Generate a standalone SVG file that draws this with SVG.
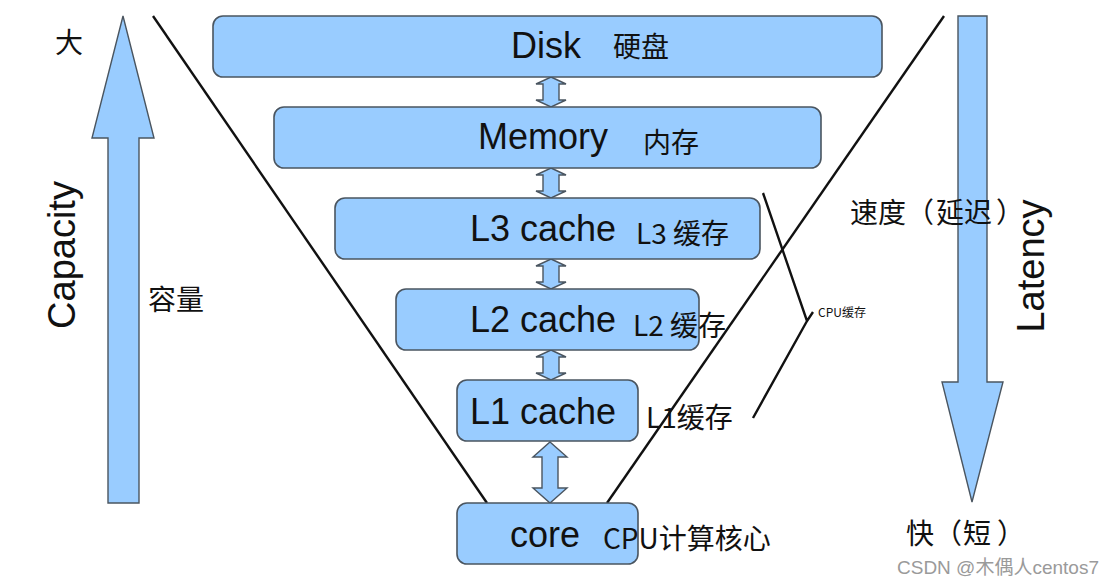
<svg xmlns="http://www.w3.org/2000/svg" width="1114" height="587" viewBox="0 0 1114 587">
<style>
.box{fill:#99ccff;stroke:#4a5560;stroke-width:1.6}
.arr{fill:#99ccff;stroke:#4a5560;stroke-width:1.4;stroke-linejoin:miter}
.ln{stroke:#111;stroke-width:2.4;fill:none}
.en{font-family:"Liberation Sans",Arial,sans-serif;font-size:36px;fill:#111}
.cn{font-family:"Noto Sans CJK SC","Noto Sans",sans-serif;font-size:28px;fill:#111}
.big{font-family:"Liberation Sans",Arial,sans-serif;font-size:38px;fill:#111}
</style>
<rect width="1114" height="587" fill="#fff"/>
<g id="connectors">
<line class="ln" x1="153" y1="16" x2="487" y2="503"/>
<line class="ln" x1="944" y1="16" x2="607" y2="503"/>
<path class="arr" d="M551,77 L566,84 L559,84 L559,100 L566,100 L551,107 L536,100 L543,100 L543,84 L536,84 Z"/>
<path class="arr" d="M551,168 L566,175 L559,175 L559,191 L566,191 L551,198 L536,191 L543,191 L543,175 L536,175 Z"/>
<path class="arr" d="M551,259 L566,266 L559,266 L559,282 L566,282 L551,289 L536,282 L543,282 L543,266 L536,266 Z"/>
<path class="arr" d="M551,350 L566,357 L559,357 L559,373 L566,373 L551,380 L536,373 L543,373 L543,357 L536,357 Z"/>
<path class="arr" d="M550,442 L567,457 L558,457 L558,488 L567,488 L550,503 L533,488 L542,488 L542,457 L533,457 Z"/>
<path class="ln" d="M763,193 L807,321 L813,312 M807,321 L753,418" stroke-width="1.8"/>
</g>
<g id="capacity-arrow">
<path class="arr" d="M123,16 L154,138 L139,138 L139,503 L108,503 L108,138 L92,138 Z"/>
</g>
<g id="latency-arrow">
<path class="arr" d="M958,16 L987,16 L987,382 L1003,382 L972,502 L942,382 L958,382 Z"/>
</g>
<g id="disk">
<rect class="box" x="213" y="16" width="669" height="61" rx="10"/>
<text class="en" x="511" y="58">Disk</text>
<text class="cn" x="613" y="57">硬盘</text>
</g>
<g id="memory">
<rect class="box" x="274" y="107" width="547" height="61" rx="10"/>
<text class="en" x="478" y="149">Memory</text>
<text class="cn" x="643" y="153">内存</text>
</g>
<g id="l3">
<rect class="box" x="335" y="198" width="425" height="61" rx="10"/>
<text class="en" x="470" y="241">L3 cache</text>
<text class="cn" x="636" y="244">L3 缓存</text>
</g>
<g id="l2">
<rect class="box" x="396" y="289" width="303" height="61" rx="10"/>
<text class="en" x="470" y="332">L2 cache</text>
<text class="cn" x="633" y="336">L2 缓存</text>
</g>
<g id="l1">
<rect class="box" x="457" y="380" width="181" height="61" rx="10"/>
<text class="en" x="470" y="424">L1 cache</text>
<text class="cn" x="646" y="428">L1缓存</text>
</g>
<g id="core">
<rect class="box" x="457" y="503" width="181" height="61" rx="10"/>
<text class="en" x="510" y="547">core</text>
<text class="cn" x="603" y="549">CPU计算核心</text>
</g>
<g id="labels">
<text class="cn" x="55" y="53">大</text>
<text class="big" transform="translate(75,255) rotate(-90)" text-anchor="middle">Capacity</text>
<text class="cn" x="148" y="310">容量</text>
<text class="cn" x="850" y="223">速度（<tspan x="936">延迟</tspan><tspan x="996">）</tspan></text>
<text class="big" transform="translate(1044,266) rotate(-90)" text-anchor="middle">Latency</text>
<text class="cn" x="906" y="544">快（<tspan x="963">短</tspan><tspan x="997">）</tspan></text>
<text class="cn" x="818" y="317" style="font-size:12px">CPU缓存</text>
<text x="897" y="574" style="font-family:'Liberation Sans','Noto Sans CJK SC',sans-serif;font-size:19px;fill:#9a9a9a">CSDN @木偶人centos7</text>
</g>
</svg>
